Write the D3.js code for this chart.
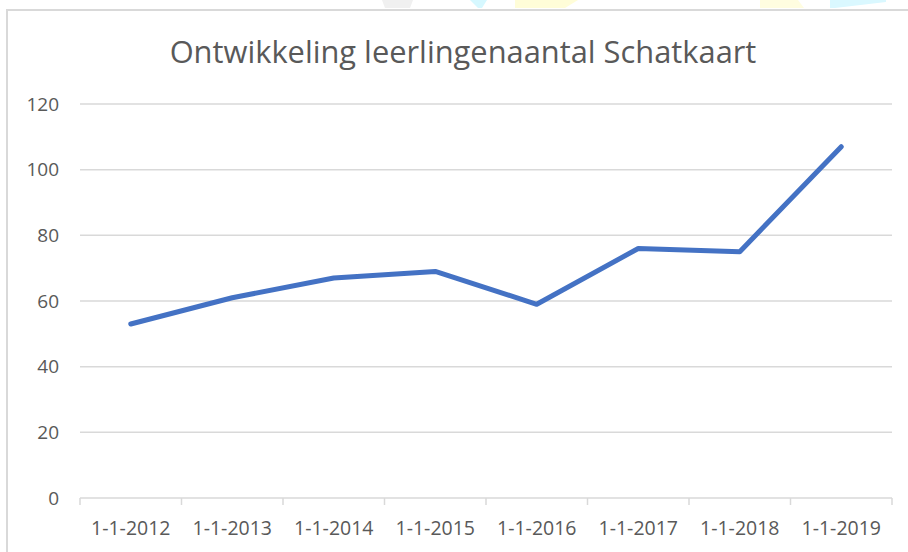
<!DOCTYPE html>
<html>
<head>
<meta charset="utf-8">
<script src="https://cdn.jsdelivr.net/npm/d3@7"></script>
<style>
  html, body { margin: 0; padding: 0; background: #ffffff; }
  svg { display: block; }
</style>
</head>
<body>
<svg id="chart" width="908" height="552"></svg>
<script>
const categories = ["1-1-2012", "1-1-2013", "1-1-2014", "1-1-2015", "1-1-2016", "1-1-2017", "1-1-2018", "1-1-2019"];
const values = [53, 61, 67, 69, 59, 76, 75, 107];
const yTicks = [0, 20, 40, 60, 80, 100, 120];
const title = "Ontwikkeling leerlingenaantal Schatkaart";

const W = 908, H = 552;
const margin = { left: 80, right: 16, top: 104, bottom: 54 };
const svg = d3.select("#chart");
const font = "'Open Sans', 'Noto Sans', sans-serif";
const textColor = "#595959";
const gridColor = "#d9d9d9";

// faint decoration above the chart frame
const deco = [
  { pts: [[382, 0], [413, 0], [410, 8], [385, 8]], fill: "#f0f0f0" },
  { pts: [[470, 0], [487, 0], [482, 8], [478, 8]], fill: "#d6f8ff" },
  { pts: [[515, 0], [578, 0], [565, 8], [515, 8]], fill: "#fffdd8" },
  { pts: [[760, 0], [798, 0], [804, 8], [760, 8]], fill: "#fffde0" },
  { pts: [[830, 0], [886, 0], [886, 2], [835, 8], [830, 8]], fill: "#daf8ff" }
];
svg.selectAll("polygon.deco").data(deco).join("polygon")
  .attr("class", "deco")
  .attr("points", d => d.pts.map(p => p.join(",")).join(" "))
  .attr("fill", d => d.fill);

// chart frame
svg.append("rect")
  .attr("x", 7).attr("y", 10)
  .attr("width", W + 10).attr("height", H + 10)
  .attr("fill", "#ffffff")
  .attr("stroke", gridColor).attr("stroke-width", 2);

const x = d3.scaleBand()
  .domain(categories)
  .range([margin.left, W - margin.right])
  .paddingInner(0).paddingOuter(0);

const y = d3.scaleLinear()
  .domain([0, 120])
  .range([H - margin.bottom, margin.top]);

// gridlines
svg.append("g")
  .selectAll("line")
  .data(yTicks.filter(t => t > 0))
  .join("line")
  .attr("x1", margin.left).attr("x2", W - margin.right)
  .attr("y1", d => y(d)).attr("y2", d => y(d))
  .attr("stroke", gridColor).attr("stroke-width", 1.5);

// y-axis labels
const yAxis = d3.axisLeft(y).tickValues(yTicks).tickSize(0).tickPadding(0);
const gy = svg.append("g")
  .attr("transform", `translate(${margin.left - 21},0)`)
  .call(yAxis);
gy.select(".domain").remove();
gy.selectAll("text")
  .attr("fill", textColor)
  .style("font-family", font)
  .style("font-size", "19px");

// x-axis
const xAxis = d3.axisBottom(x).tickSize(0).tickPadding(0);
const gx = svg.append("g")
  .attr("transform", `translate(0,${y(0)})`)
  .call(xAxis);
gx.select(".domain").attr("stroke", gridColor).attr("stroke-width", 1.5)
  .attr("d", `M${margin.left},0H${W - margin.right}`);
gx.selectAll(".tick line").remove();
gx.selectAll("text")
  .attr("fill", textColor)
  .attr("dy", 0)
  .attr("y", 37)
  .style("font-family", font)
  .style("font-size", "19.5px");

// tick marks at band boundaries
const bounds = categories.map(c => x(c)).concat([x(categories[categories.length - 1]) + x.bandwidth()]);
gx.append("g").selectAll("line")
  .data(bounds)
  .join("line")
  .attr("x1", d => d).attr("x2", d => d)
  .attr("y1", 0).attr("y2", 7)
  .attr("stroke", gridColor).attr("stroke-width", 1.5);

// line
const line = d3.line()
  .x((d, i) => x(categories[i]) + x.bandwidth() / 2)
  .y(d => y(d));
svg.append("path")
  .datum(values)
  .attr("d", line)
  .attr("fill", "none")
  .attr("stroke", "#4472c4")
  .attr("stroke-width", 5)
  .attr("stroke-linejoin", "round")
  .attr("stroke-linecap", "round");

// title
const t = svg.append("text")
  .attr("x", 463).attr("y", 63)
  .attr("text-anchor", "middle")
  .attr("fill", textColor)
  .style("font-family", font)
  .style("font-size", "28px")
  .text(title);
const len = t.node().getComputedTextLength();
t.style("font-size", (28 * 587 / len).toFixed(2) + "px");
</script>
</body>
</html>
